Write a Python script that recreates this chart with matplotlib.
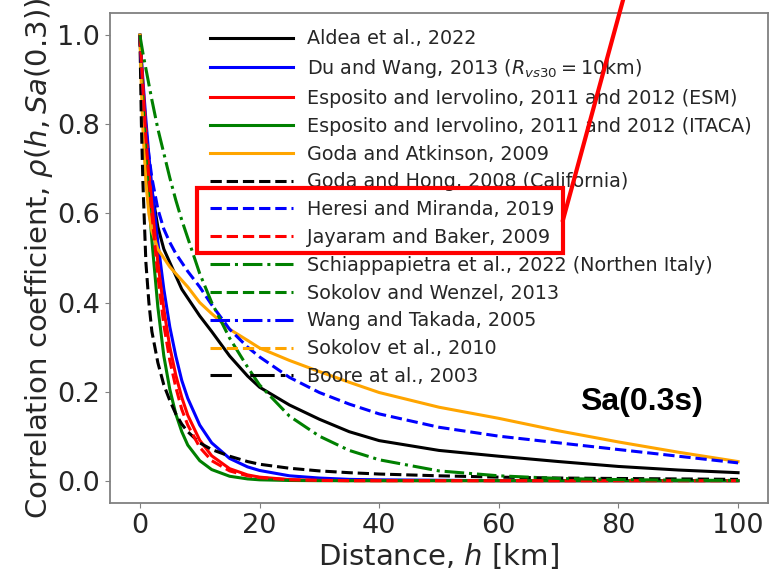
"""Spatial correlation models of Sa(0.3s) versus inter-site distance."""
import matplotlib
matplotlib.use("Agg")
import matplotlib.pyplot as plt
from matplotlib.lines import Line2D
from matplotlib.patches import Rectangle

# distance grid [km] on which the curves were read
dist = [0, 0.25, 0.5, 1, 1.5, 2, 3, 4, 5, 6, 7, 8, 10, 12, 15, 18, 20,
        25, 30, 35, 40, 50, 60, 70, 80, 90, 100]

aldea = [1.0, 0.92, 0.86, 0.77, 0.70, 0.65, 0.57, 0.52, 0.49, 0.46, 0.43, 0.41,
         0.37, 0.335, 0.28, 0.235, 0.21, 0.17, 0.138, 0.11, 0.09, 0.068,
         0.055, 0.043, 0.032, 0.024, 0.018]
du_wang = [1.0, 0.95, 0.90, 0.81, 0.73, 0.66, 0.535, 0.43, 0.345, 0.28, 0.225,
           0.185, 0.125, 0.085, 0.05, 0.031, 0.023, 0.011, 0.006, 0.003, 0.002,
           0.001, 0, 0, 0, 0, 0]
esm = [1.0, 0.94, 0.89, 0.79, 0.70, 0.62, 0.49, 0.385, 0.30, 0.237, 0.187, 0.147,
       0.091, 0.056, 0.027, 0.013, 0.008, 0.0025, 0.0008, 0.0002, 0, 0, 0, 0,
       0, 0, 0]
itaca = [1.0, 0.92, 0.85, 0.73, 0.63, 0.54, 0.39, 0.28, 0.205, 0.15, 0.11, 0.08,
         0.045, 0.025, 0.01, 0.004, 0.002, 0.0005, 0, 0, 0, 0, 0, 0, 0, 0, 0]
goda_atk = [1.0, 0.88, 0.79, 0.67, 0.60, 0.56, 0.52, 0.50, 0.48, 0.465, 0.45,
            0.435, 0.40, 0.375, 0.34, 0.315, 0.298, 0.27, 0.245, 0.221, 0.198,
            0.165, 0.14, 0.112, 0.087, 0.064, 0.043]
goda_hong = [1.0, 0.80, 0.67, 0.49, 0.40, 0.335, 0.265, 0.215, 0.18, 0.15, 0.127,
             0.11, 0.085, 0.07, 0.055, 0.043, 0.037, 0.028, 0.022, 0.018, 0.015,
             0.011, 0.008, 0.006, 0.005, 0.004, 0.003]
heresi = [1.0, 0.93, 0.88, 0.79, 0.73, 0.68, 0.61, 0.565, 0.535, 0.51, 0.49,
          0.47, 0.435, 0.395, 0.34, 0.30, 0.278, 0.232, 0.198, 0.172, 0.15,
          0.12, 0.10, 0.085, 0.07, 0.055, 0.04]
jayaram = [1.0, 0.94, 0.88, 0.77, 0.68, 0.60, 0.46, 0.35, 0.27, 0.21, 0.16,
           0.125, 0.075, 0.045, 0.022, 0.011, 0.007, 0.002, 0.0006, 0, 0, 0,
           0, 0, 0, 0, 0]
schiappa = [1.0, 0.98, 0.96, 0.925, 0.89, 0.855, 0.79, 0.735, 0.68, 0.63, 0.585,
            0.545, 0.465, 0.40, 0.32, 0.255, 0.215, 0.145, 0.10, 0.068, 0.047,
            0.022, 0.011, 0.005, 0.0025, 0.0012, 0.0006]

# (label, values, colour, linestyle); models without Sa(0.3s) have no data
models = [
    ("Aldea et al., 2022", aldea, "black", "-"),
    (r"Du and Wang, 2013 ($R_{vs30} = 10$km)", du_wang, "blue", "-"),
    ("Esposito and Iervolino, 2011 and 2012 (ESM)", esm, "red", "-"),
    ("Esposito and Iervolino, 2011 and 2012 (ITACA)", itaca, "green", "-"),
    ("Goda and Atkinson, 2009", goda_atk, "orange", "-"),
    ("Goda and Hong, 2008 (California)", goda_hong, "black", "--"),
    ("Heresi and Miranda, 2019", heresi, "blue", "--"),
    ("Jayaram and Baker, 2009", jayaram, "red", "--"),
    ("Schiappapietra et al., 2022 (Northen Italy)", schiappa, "green", "-."),
    ("Sokolov and Wenzel, 2013", [], "green", "--"),
    ("Wang and Takada, 2005", [], "blue", "-."),
    ("Sokolov et al., 2010", [], "orange", "--"),
    ("Boore at al., 2003", [], "black", (0, (7, 6, 8, 2, 1.5, 2))),
]

fig = plt.figure(figsize=(7.73, 5.73), dpi=100)
ax = fig.add_axes([0.1423, 0.1222, 0.8512, 0.8551])

for label, vals, color, ls in models:
    ax.plot(dist[:len(vals)], vals, color=color, linestyle=ls, lw=2.2, label=label)

ax.set_xlim(-5, 105)
ax.set_ylim(-0.05, 1.05)
ax.set_xticks([0, 20, 40, 60, 80, 100])
ax.set_yticks([0.0, 0.2, 0.4, 0.6, 0.8, 1.0])
ax.tick_params(labelsize=19.5, colors="#808080", labelcolor="#262626")
for sp in ax.spines.values():
    sp.set_color("#808080")
    sp.set_linewidth(1.3)

ax.set_xlabel(r"Distance, $h$ [km]", fontsize=21, color="#262626", labelpad=2)
# the long label runs past the top edge, as in the original figure
ax.set_ylabel(r"Correlation coefficient, $\rho(h, Sa(0.3))$", fontsize=21,
              color="#262626", labelpad=2)

ax.legend(loc="upper right", frameon=False, fontsize=13.8, handlelength=4.3,
          handletextpad=0.75, labelspacing=0.46, labelcolor="#262626",
          borderaxespad=0.45)

ax.text(0.807, 0.206, "Sa(0.3s)", transform=ax.transAxes, ha="center",
        va="center", fontsize=23, fontweight="bold", family="Liberation Sans")

# red highlight box around two legend entries, with a pointer line
fig.add_artist(Rectangle((0.2549, 0.5585), 0.4735, 0.1134, transform=fig.transFigure,
                         fill=False, edgecolor="red", lw=3))
fig.add_artist(Line2D([0.7283, 0.8060], [0.6161, 1.0], transform=fig.transFigure,
                      color="red", lw=3))

fig.savefig("out.png", dpi=100)
